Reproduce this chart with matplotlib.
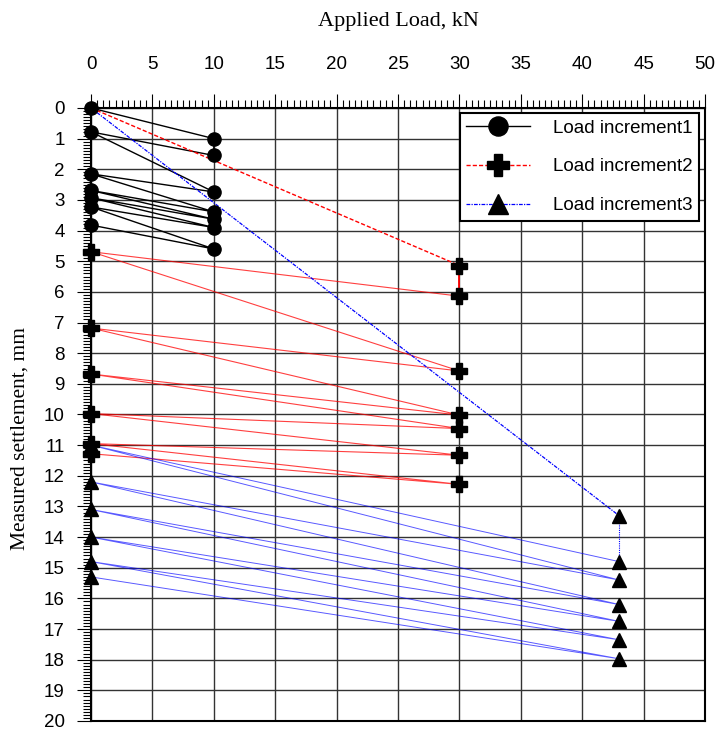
import matplotlib.pyplot as plt
from matplotlib.ticker import MultipleLocator
from matplotlib.lines import Line2D

# ── Data: load / settlement sequence of each load increment ─────────────────
# Load increment 1 (cycles at 10 kN)
load1 = [0, 10, 10, 0, 10, 0, 10, 0, 10, 0, 10, 0, 10, 0]
sett1 = [0, 1.0, 1.55, 0.78, 2.74, 2.15, 3.39, 2.69, 3.63, 2.93, 3.9, 3.23, 4.6, 3.82]

# Load increment 2 (cycles at 30 kN)
load2 = [0, 30, 30, 0, 30, 0, 30, 0, 30, 0, 30, 0, 30, 0]
sett2 = [0, 5.14, 6.14, 4.69, 8.58, 7.18, 10.02, 8.68, 10.46, 9.97, 11.33, 10.95, 12.28, 11.28]

# Load increment 3 (cycles at 43 kN)
load3 = [0, 43, 43, 0, 43, 0, 43, 0, 43, 0, 43, 0, 43, 0]
sett3 = [0, 13.3, 14.8, 11.0, 15.4, 12.2, 16.2, 13.1, 16.75, 14.0, 17.35, 14.8, 17.97, 15.3]

labels = ['Load increment1', 'Load increment2', 'Load increment3']

SANS = 'Liberation Sans'
SERIF = 'Liberation Serif'

fig = plt.figure(figsize=(7.15, 7.31), dpi=100)
ax = fig.add_axes([0.1273, 0.0137, 0.8587, 0.8386])

# grid
ax.grid(True, which='major', color='0.2', linewidth=1.0)

# series 1: black solid
ax.plot(load1, sett1, color='black', linewidth=1.0, zorder=3)

# series 2: red dashed first loading, thin solid cycles
ax.plot(load2[:2], sett2[:2], color='red', linestyle=(0, (3, 1.5)), linewidth=1.0, zorder=3)
ax.plot(load2[1:3], sett2[1:3], color='red', linewidth=1.3, zorder=3)
ax.plot(load2[2:], sett2[2:], color='red', linewidth=0.8, alpha=0.75, zorder=3)

# series 3: blue dash-dot first loading, dotted hold, thin solid cycles
ax.plot(load3[:2], sett3[:2], color='blue', linestyle=(0, (3, 1, 1, 1)), linewidth=0.9, zorder=3)
ax.plot(load3[1:3], sett3[1:3], color='blue', linestyle=(0, (1, 1)), linewidth=0.8, zorder=3)
ax.plot(load3[2:], sett3[2:], color='blue', linewidth=0.7, alpha=0.65, zorder=3)

# markers
ax.plot(load2[1:], sett2[1:], linestyle='none', marker='P', markersize=11,
        color='black', clip_on=False, zorder=4)
ax.plot(load3[1:], sett3[1:], linestyle='none', marker='^', markersize=10,
        color='black', clip_on=False, zorder=5)
ax.plot(load1, sett1, linestyle='none', marker='o', markersize=9.5,
        color='black', clip_on=False, zorder=6)

# axes
ax.set_xlim(0, 50)
ax.set_ylim(20, 0)
ax.xaxis.tick_top()
ax.xaxis.set_label_position('top')
ax.xaxis.set_major_locator(MultipleLocator(5))
ax.xaxis.set_minor_locator(MultipleLocator(0.5))
ax.yaxis.set_major_locator(MultipleLocator(1))
ax.yaxis.set_minor_locator(MultipleLocator(0.1))
ax.tick_params(axis='x', which='major', direction='out', length=10, width=0.8, pad=15)
ax.tick_params(axis='x', which='minor', direction='out', length=6, width=0.8)
ax.tick_params(axis='y', which='major', direction='out', length=10, width=0.8, pad=9)
ax.tick_params(axis='y', which='minor', direction='out', length=6, width=0.8)
for lab in ax.get_xticklabels() + ax.get_yticklabels():
    lab.set_fontfamily(SANS)
    lab.set_fontsize(13.5)
for sp in ax.spines.values():
    sp.set_linewidth(1.5)

ax.set_xlabel('Applied Load, kN', fontfamily=SERIF, fontsize=16, labelpad=22)
ax.set_ylabel('Measured settlement, mm', fontfamily=SERIF, fontsize=15.5)
ax.yaxis.set_label_coords(-0.1, 0.46)

handles = [
    Line2D([], [], color='black', linewidth=1.0, marker='o', markersize=9.5),
    Line2D([], [], color='red', linestyle=(0, (3, 1.5)), linewidth=1.0, marker='P',
           markersize=11, markerfacecolor='black', markeredgecolor='black'),
    Line2D([], [], color='blue', linestyle=(0, (3, 1, 1, 1)), linewidth=0.9, marker='^',
           markersize=10, markerfacecolor='black', markeredgecolor='black'),
]
leg = ax.legend(handles, labels, loc='upper right', bbox_to_anchor=(0.99, 0.992),
                borderaxespad=0, prop={'family': SANS, 'size': 13.5},
                markerscale=1.45, handlelength=3.4, handletextpad=1.2,
                labelspacing=1.16, borderpad=0.35, fancybox=False, framealpha=1)
leg.get_frame().set_edgecolor('black')
leg.get_frame().set_linewidth(1.5)
leg.set_zorder(10)

fig.savefig('out.png', dpi=100)
